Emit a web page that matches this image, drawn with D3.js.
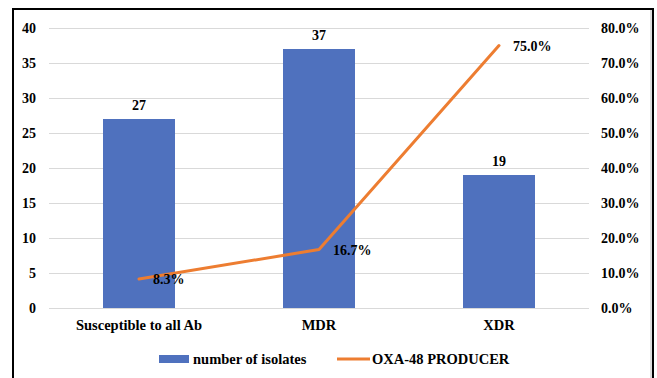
<!DOCTYPE html>
<html>
<head>
<meta charset="utf-8">
<script src="https://cdn.jsdelivr.net/npm/d3@7"></script>
<style>
  html, body { margin: 0; padding: 0; background: #fff; }
  svg { display: block; }
  text { font-family: "Liberation Serif", "Times New Roman", serif; font-weight: bold; fill: #000; }
</style>
</head>
<body>
<svg id="chart" width="657" height="378"></svg>
<script>
// Isolate categories, counts and OXA-48 producer share
const categories = ["Susceptible to all Ab", "MDR", "XDR"];
const isolateCounts = [27, 37, 19];
const oxaShare = [0.083, 0.167, 0.75];
const leftTicks = [0, 5, 10, 15, 20, 25, 30, 35, 40];
const rightTicks = [0, 0.1, 0.2, 0.3, 0.4, 0.5, 0.6, 0.7, 0.8];
const seriesNames = ["number of isolates", "OXA-48 PRODUCER"];

const svg = d3.select("#chart");
const plot = { left: 49, right: 589, top: 28, bottom: 308 };

const barColor = "#4F71BE";
const lineColor = "#ED7D31";
const gridColor = "#d9d9d9";
const serif = "Liberation Serif";

// Frame
svg.append("rect").attr("x", 13).attr("y", 9).attr("width", 640).attr("height", 380)
  .attr("fill", "none").attr("stroke", "#000").attr("stroke-width", 2);
svg.append("line").attr("x1", 651).attr("x2", 651).attr("y1", 10).attr("y2", 378)
  .attr("stroke", "#bbb").attr("stroke-width", 1);

const x = d3.scaleBand().domain(categories).range([plot.left, plot.right]).paddingInner(0.6).paddingOuter(0.3);
const yL = d3.scaleLinear().domain([0, 40]).range([plot.bottom, plot.top]);
const yR = d3.scaleLinear().domain([0, 0.8]).range([plot.bottom, plot.top]);

// Gridlines
svg.append("g").selectAll("line").data(leftTicks).join("line")
  .attr("x1", plot.left).attr("x2", plot.right)
  .attr("y1", d => yL(d) + 0.5).attr("y2", d => yL(d) + 0.5)
  .attr("stroke", gridColor).attr("stroke-width", 1);

function styleAxis(g, size) {
  g.select(".domain").remove();
  g.attr("font-family", serif).attr("font-size", size);
  g.selectAll("text").style("font-family", serif).style("font-size", size + "px").style("font-weight", "bold");
}

// Left axis
const leftAxis = svg.append("g").attr("transform", `translate(${plot.left},0)`)
  .call(d3.axisLeft(yL).tickValues(leftTicks).tickSize(0).tickPadding(13));
styleAxis(leftAxis, 14);

// Right axis
const rightAxis = svg.append("g").attr("transform", `translate(${plot.right},0)`)
  .call(d3.axisRight(yR).tickValues(rightTicks).tickSize(0).tickPadding(12).tickFormat(d3.format(".1%")));
styleAxis(rightAxis, 14);

// Category axis
const bottomAxis = svg.append("g").attr("transform", `translate(0,${plot.bottom})`)
  .call(d3.axisBottom(x).tickSize(0).tickPadding(12));
styleAxis(bottomAxis, 14.5);

// Bars
svg.append("g").selectAll("rect").data(isolateCounts).join("rect")
  .attr("x", (d, i) => x(categories[i]))
  .attr("y", d => yL(d))
  .attr("width", x.bandwidth())
  .attr("height", d => yL(0) - yL(d))
  .attr("fill", barColor);

// Bar value labels
svg.append("g").selectAll("text").data(isolateCounts).join("text")
  .attr("x", (d, i) => x(categories[i]) + x.bandwidth() / 2)
  .attr("y", d => yL(d) - 9)
  .attr("text-anchor", "middle")
  .style("font-size", "14px")
  .text(d => d);

// Line
const cx = (d, i) => x(categories[i]) + x.bandwidth() / 2;
const line = d3.line().x(cx).y(d => yR(d));
svg.append("path").datum(oxaShare)
  .attr("d", line)
  .attr("fill", "none")
  .attr("stroke", lineColor)
  .attr("stroke-width", 3)
  .attr("stroke-linejoin", "round")
  .attr("stroke-linecap", "round");

// Line value labels
svg.append("g").selectAll("text").data(oxaShare).join("text")
  .attr("x", (d, i) => cx(d, i) + 14)
  .attr("y", d => yR(d) + 5)
  .style("font-size", "14px")
  .text(d => d3.format(".1%")(d));

// Legend
const legY = 359;
svg.append("rect").attr("x", 159).attr("y", legY - 4).attr("width", 30).attr("height", 8).attr("fill", barColor);
svg.append("text").attr("x", 193).attr("y", legY + 5).style("font-size", "14.5px").text(seriesNames[0]);
svg.append("line").attr("x1", 337).attr("x2", 370).attr("y1", legY).attr("y2", legY)
  .attr("stroke", lineColor).attr("stroke-width", 3);
svg.append("text").attr("x", 372).attr("y", legY + 5).style("font-size", "14.5px").text(seriesNames[1]);
</script>
</body>
</html>
